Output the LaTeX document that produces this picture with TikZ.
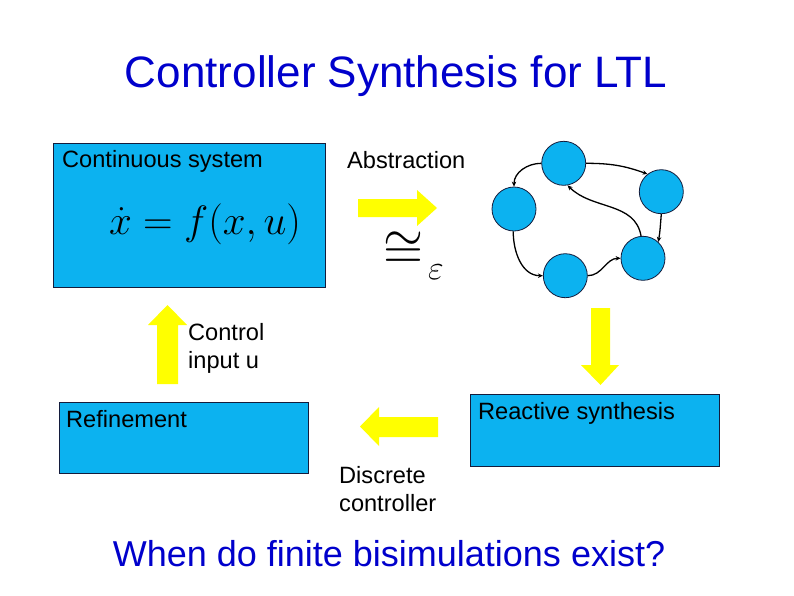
\RequirePackage{fix-cm}
\documentclass[tikz,border=0pt]{standalone}
\usepackage[no-math]{fontspec}
\usepackage{graphicx}
\newfontfamily\arial{Liberation Sans}
\usetikzlibrary{arrows.meta}
\definecolor{boxblue}{RGB}{12,178,240}
\definecolor{edgenavy}{RGB}{20,28,60}
\definecolor{arrowyellow}{RGB}{255,255,0}
\definecolor{titleblue}{RGB}{0,0,204}
\tikzset{
  box/.style={draw=edgenavy, line width=1pt, fill=boxblue, rectangle, inner sep=0pt, anchor=north west},
  lbl/.style={inner sep=0pt, font=\arial\fontsize{23.6}{27.5}\selectfont, text=black, align=left},
  state/.style={circle, draw=edgenavy, line width=0.8pt, fill=boxblue, minimum size=44pt, inner sep=0pt},
  trans/.style={draw=black, line width=1.3pt, -{Stealth[length=5pt,width=4.5pt]}},
  bigarrow/.style={fill=arrowyellow, draw=none},
  headline/.style={inner sep=0pt, font=\arial\fontsize{44}{48}\selectfont, text=titleblue}
}
\begin{document}
\begin{tikzpicture}[x=1pt,y=1pt]
\useasboundingbox (0,0) rectangle (794,-595);
\fill[white] (0,0) rectangle (794,-595);

% title
\node[headline, anchor=base] (title) at (396,-87) {Controller Synthesis for LTL};

% continuous system box
\node[box, minimum width=272pt, minimum height=144pt] (cont) at (53,-143) {};
\node[lbl, anchor=base west] (conttxt) at (62,-167) {Continuous system};
\node[inner sep=0pt, anchor=base, font=\fontsize{41}{45}\selectfont] (eqn) at (205,-234) {$\dot x = f(x,u)$};

% abstraction
\node[lbl, anchor=base west] (abstxt) at (347,-168) {Abstraction};
\fill[bigarrow] (358,-199) -- (417,-199) -- (417,-190) -- (437,-208) -- (417,-226) -- (417,-217) -- (358,-217) -- cycle;
\node[inner sep=0pt, anchor=center] (cong) at (403,-250.5) {\resizebox{40pt}{34pt}{$\cong$}};
\node[inner sep=0pt, anchor=center, font=\fontsize{34}{38}\selectfont] (eps) at (436,-272) {$\varepsilon$};

% graph
\node[state] (A) at (563.7,-163.3) {};
\node[state] (B) at (661.3,-191.7) {};
\node[state] (C) at (514,-209) {};
\node[state] (D) at (565.3,-275.7) {};
\node[state] (E) at (643,-258.3) {};
\draw[trans] (A.west) to[out=180,in=90] (C.north);
\draw[trans] (A.east) to[out=0,in=160] (B.128);
\draw[trans] (B.south) to[out=-95,in=80] (E.47);
\draw[trans] (E.95) to[out=100,in=-45] (A.-80);
\draw[trans] (C.-92) to[out=-90,in=180] (D.west);
\draw[trans] (D.east) to[out=0,in=180] (E.west);

% down arrow
\fill[bigarrow] (591,-308) -- (610,-308) -- (610,-365) -- (619,-365) -- (600.5,-385) -- (581,-365) -- (591,-365) -- cycle;

% reactive synthesis box
\node[box, minimum width=249pt, minimum height=72pt] (react) at (470,-394) {};
\node[lbl, anchor=base west] (reacttxt) at (478,-419) {Reactive synthesis};

% left arrow
\fill[bigarrow] (360,-426.5) -- (379,-407) -- (379,-417) -- (438,-417) -- (438,-437) -- (379,-437) -- (379,-446) -- cycle;
\node[lbl, anchor=base west] (disc) at (339,-511) {Discrete\\controller};

% refinement box
\node[box, minimum width=249pt, minimum height=71pt] (refine) at (59,-402) {};
\node[lbl, anchor=base west] (reftxt) at (66,-427) {Refinement};

% up arrow
\fill[bigarrow] (167.5,-305) -- (187,-325) -- (178,-325) -- (178,-384) -- (157,-384) -- (157,-325) -- (148,-325) -- cycle;
\node[lbl, anchor=base west] (ctrl) at (188,-368) {Control\\input u};

% bottom question
\node[inner sep=0pt, anchor=base, font=\arial\fontsize{36}{40}\selectfont, text=titleblue] (question) at (389,-566) {When do finite bisimulations exist?};
\end{tikzpicture}
\end{document}
